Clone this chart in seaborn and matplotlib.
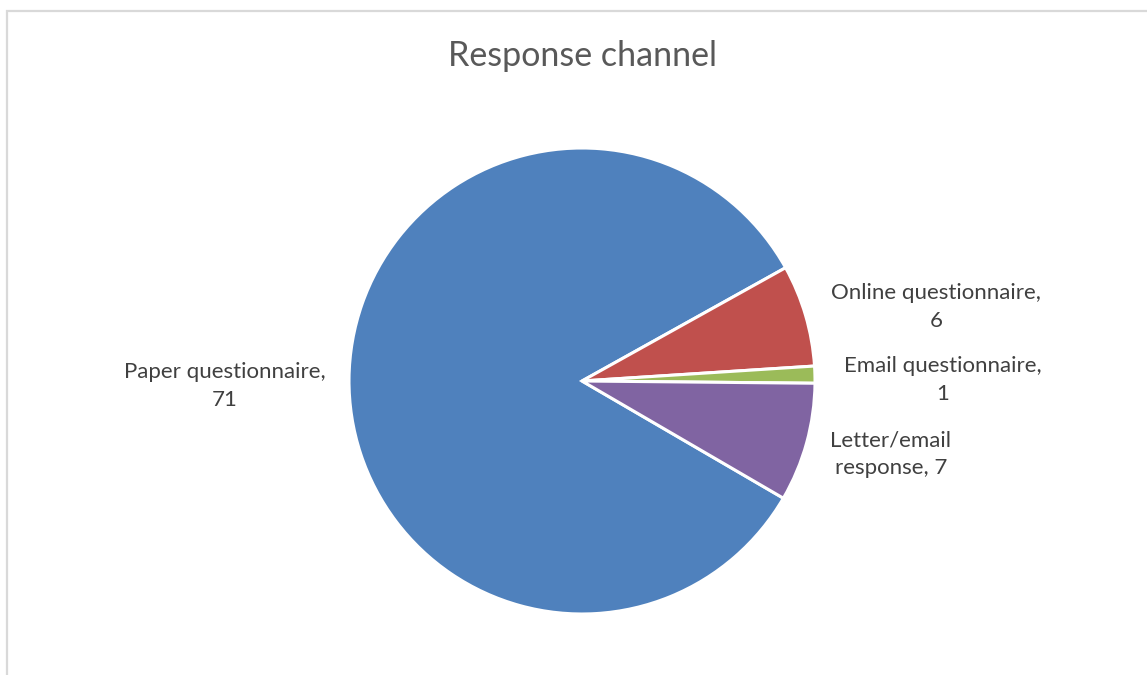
import matplotlib
matplotlib.use("Agg")
import matplotlib.pyplot as plt
from matplotlib.patches import Rectangle
import seaborn as sns

# Survey responses by channel
categories = ["Paper questionnaire", "Online questionnaire", "Email questionnaire", "Letter/email response"]
counts = [71, 6, 1, 7]
label_texts = ["Paper questionnaire,\n71", "Online questionnaire,\n6",
               "Email questionnaire,\n1", "Letter/email\nresponse, 7"]
title = "Response channel"

sns.set_theme(style="white")
plt.rcParams["font.family"] = ["Lato", "DejaVu Sans"]

colors = sns.color_palette(["#4F81BD", "#C0504D", "#9BBB59", "#8064A2"])

W, H = 1147, 675
fig = plt.figure(figsize=(W / 100, H / 100), dpi=100)
fig.patch.set_facecolor("white")

# chart-area border (runs off the right and bottom edges)
fig.patches.append(Rectangle((7 / W, -0.05), 1.1, 1 - 10.5 / H + 0.05,
                             transform=fig.transFigure, fill=False,
                             edgecolor="#d9d9d9", linewidth=1.6, clip_on=False))

cx, cy, r = 582, 381, 233
ax = fig.add_axes([(cx - r) / W, (H - cy - r) / H, 2 * r / W, 2 * r / H])
wedges, _ = ax.pie(counts, colors=colors, startangle=329.8, counterclock=False,
                   radius=1.0, wedgeprops=dict(edgecolor="white", linewidth=2.2))
ax.set_xlim(-1, 1)
ax.set_ylim(-1, 1)
ax.set_aspect("equal")
ax.axis("off")

# data-label positions (pixel centres)
label_pos = [(225, 386), (936, 307), (943, 380), (891, 454)]
for txt, (px, py) in zip(label_texts, label_pos):
    fig.text(px / W, 1 - py / H, txt, ha="center", va="center",
             fontsize=16, color="#404040", linespacing=1.45)

fig.text(583 / W, 1 - 56 / H, title, ha="center", va="center",
         fontsize=24.5, color="#595959")

fig.savefig("out.png", dpi=100, facecolor="white")
